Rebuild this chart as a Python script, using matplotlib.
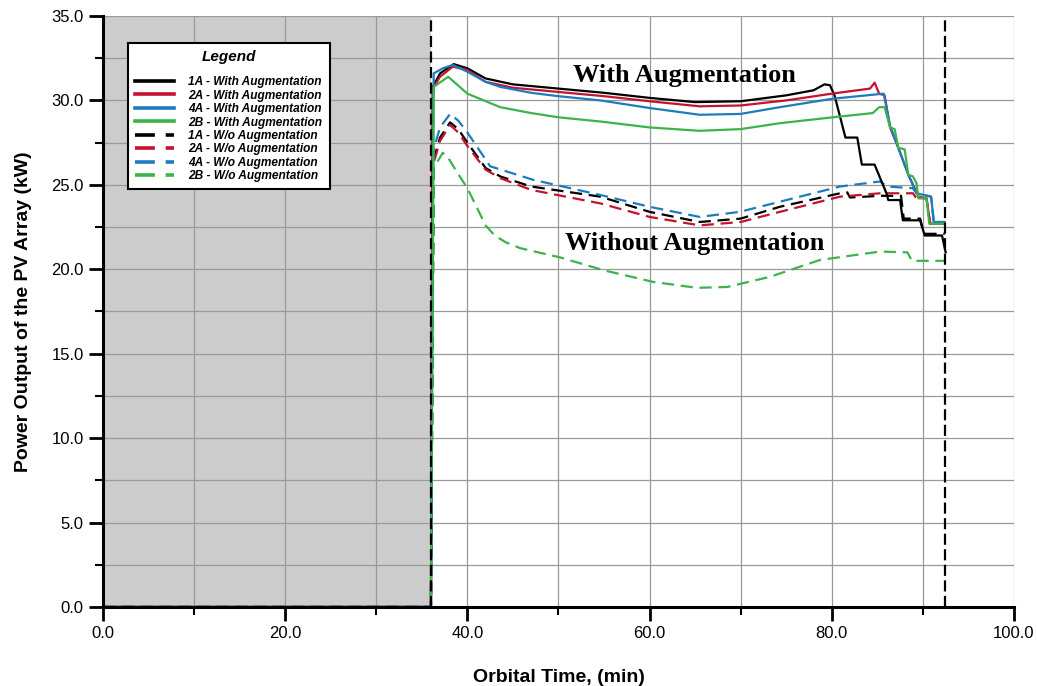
import matplotlib
matplotlib.use('Agg')
import matplotlib.pyplot as plt

# orbital time (min) and PV power (kW)
t_1a = [0, 36.0, 36.2, 37.0, 38.5, 40.0, 42.0, 45.0, 50.0, 55.0, 60.0, 65.0, 70.0, 75.0, 78.0,
        79.2, 79.8, 80.3, 81.5, 82.8, 83.3, 84.7, 86.0, 86.2, 87.5, 87.8, 89.7, 90.2, 92.1, 92.5]
p_1a = [0, 0, 30.8, 31.6, 32.15, 31.9, 31.3, 30.95, 30.7, 30.45, 30.15, 29.9, 29.95, 30.3, 30.6,
        30.95, 30.9, 30.3, 27.8, 27.8, 26.2, 26.2, 24.5, 24.1, 24.1, 22.9, 22.9, 22.0, 22.0, 21.0]

t_2a = [0, 36.0, 36.2, 37.0, 38.4, 40.0, 42.0, 45.0, 50.0, 55.0, 60.0, 65.5, 70.0, 75.0, 80.0,
        84.2, 84.7, 85.2, 85.8, 86.4, 87.3, 88.4, 89.1, 89.5, 90.4, 90.8, 92.4]
p_2a = [0, 0, 30.7, 31.4, 32.0, 31.8, 31.1, 30.75, 30.5, 30.25, 29.95, 29.65, 29.7, 30.0, 30.4,
        30.7, 31.05, 30.4, 30.3, 28.4, 27.2, 25.6, 24.8, 24.3, 24.2, 22.7, 22.7]

t_4a = [0, 36.0, 36.3, 37.3, 38.4, 40.0, 42.0, 43.6, 47.0, 50.0, 54.6, 60.0, 65.5, 70.0, 74.3,
        80.1, 85.7, 86.4, 87.3, 88.4, 89.3, 90.9, 91.2, 92.4]
p_4a = [0, 0, 31.6, 31.9, 32.1, 31.7, 31.1, 30.8, 30.45, 30.25, 30.0, 29.55, 29.15, 29.2, 29.6,
        30.1, 30.4, 28.5, 27.2, 25.6, 24.5, 24.3, 22.8, 22.8]

t_2b = [0, 36.0, 36.3, 37.9, 40.0, 43.6, 47.0, 50.0, 54.6, 60.0, 65.5, 70.0, 74.3, 80.1, 84.5,
        85.2, 85.8, 86.4, 86.9, 87.3, 88.0, 88.4, 88.9, 89.3, 89.5, 90.4, 90.7, 92.4]
p_2b = [0, 0, 30.8, 31.4, 30.4, 29.6, 29.25, 29.0, 28.75, 28.4, 28.2, 28.3, 28.65, 29.0, 29.25,
        29.6, 29.6, 28.4, 28.3, 27.2, 27.1, 25.6, 25.5, 25.1, 24.2, 24.2, 22.7, 22.7]

t_1a_wo = [0, 36.0, 36.3, 37.0, 38.1, 39.0, 40.0, 42.0, 43.6, 47.0, 54.6, 60.0, 65.5, 70.0, 74.3,
           80.9, 81.7, 82.0, 85.3, 87.6, 87.9, 89.7, 90.1, 92.4]
p_1a_wo = [0, 0, 26.5, 27.8, 28.7, 28.3, 27.5, 26.0, 25.5, 24.9, 24.3, 23.4, 22.8, 23.0, 23.7,
           24.5, 24.55, 24.25, 24.35, 24.35, 23.0, 23.0, 22.1, 22.1]

t_2a_wo = [0, 36.0, 36.3, 37.0, 38.1, 39.0, 40.0, 42.0, 43.6, 47.0, 54.6, 60.0, 65.5, 70.0, 74.3,
           80.9, 85.3, 88.9, 89.3, 90.4, 90.8, 92.4]
p_2a_wo = [0, 0, 26.3, 27.6, 28.55, 28.1, 27.3, 25.9, 25.4, 24.7, 23.9, 23.1, 22.6, 22.8, 23.4,
           24.3, 24.5, 24.5, 24.2, 24.2, 22.7, 22.7]

t_4a_wo = [0, 36.0, 36.3, 37.0, 38.1, 39.0, 40.0, 42.5, 47.2, 54.6, 60.0, 65.5, 69.9, 74.3, 80.9,
           85.3, 86.1, 88.9, 89.3, 90.9, 91.2, 92.4]
p_4a_wo = [0, 0, 27.1, 28.4, 29.2, 28.8, 28.1, 26.1, 25.3, 24.4, 23.7, 23.1, 23.4, 24.0, 24.9,
           25.2, 24.9, 24.8, 24.5, 24.3, 22.8, 22.8]

t_2b_wo = [0, 36.0, 36.3, 37.3, 37.9, 38.8, 40.0, 41.0, 42.0, 43.0, 44.2, 45.8, 50.2, 54.9, 60.4,
           65.2, 68.5, 73.2, 78.7, 85.3, 88.3, 88.8, 92.4]
p_2b_wo = [0, 0, 26.0, 26.9, 26.6, 25.8, 24.8, 23.7, 22.6, 22.0, 21.6, 21.25, 20.7, 19.95, 19.25,
           18.9, 18.95, 19.55, 20.55, 21.05, 21.0, 20.5, 20.5]

eclipse_end = 36.0
orbit_end = 92.4

black = '#000000'
red = '#c4122f'
blue = '#1f7bbf'
green = '#3cb44b'

plt.rcParams['font.family'] = ['Liberation Sans', 'DejaVu Sans']

fig = plt.figure(figsize=(10.37, 6.86), dpi=100)
ax = fig.add_axes([0.0993, 0.1152, 0.8785, 0.8615])

ax.axvspan(0, eclipse_end, color='#cccccc', lw=0)
ax.axvline(eclipse_end, color='black', lw=1.6, dashes=(5, 2), zorder=3)
ax.axvline(orbit_end, color='black', lw=1.6, dashes=(5, 2), zorder=3)

dash = (5.5, 3)
ax.plot(t_1a_wo, p_1a_wo, color=black, lw=1.6, dashes=dash, label='1A - W/o Augmentation')
ax.plot(t_2a_wo, p_2a_wo, color=red, lw=1.6, dashes=dash, label='2A - W/o Augmentation')
ax.plot(t_4a_wo, p_4a_wo, color=blue, lw=1.6, dashes=dash, label='4A - W/o Augmentation')
ax.plot(t_2b_wo, p_2b_wo, color=green, lw=1.6, dashes=dash, label='2B - W/o Augmentation')
ax.plot(t_1a, p_1a, color=black, lw=1.6, label='1A - With Augmentation')
ax.plot(t_2a, p_2a, color=red, lw=1.6, label='2A - With Augmentation')
ax.plot(t_4a, p_4a, color=blue, lw=1.6, label='4A - With Augmentation')
ax.plot(t_2b, p_2b, color=green, lw=1.6, label='2B - With Augmentation')

ax.set_xlim(0, 100)
ax.set_ylim(0, 35)
ax.set_xticks([0, 20, 40, 60, 80, 100])
ax.set_xticks([10, 30, 50, 70, 90], minor=True)
ax.set_yticks([0, 5, 10, 15, 20, 25, 30, 35])
ax.set_yticks([2.5, 7.5, 12.5, 17.5, 22.5, 27.5, 32.5], minor=True)
ax.set_xticklabels(['%.1f' % v for v in [0, 20, 40, 60, 80, 100]])
ax.set_yticklabels(['%.1f' % v for v in [0, 5, 10, 15, 20, 25, 30, 35]])
ax.grid(True, which='both', color='#999999', lw=0.9)

ax.spines['top'].set_visible(False)
ax.spines['right'].set_visible(False)
ax.spines['left'].set_linewidth(2.2)
ax.spines['bottom'].set_linewidth(2.2)
ax.tick_params(which='major', length=10, width=2, labelsize=12, pad=4)
ax.tick_params(which='minor', length=5.5, width=1.5)

ax.set_xlabel('Orbital Time, (min)', fontsize=14, fontweight='bold', labelpad=20)
ax.set_ylabel('Power Output of the PV Array (kW)', fontsize=14, fontweight='bold', labelpad=14)

ax.text(63.8, 31.5, 'With Augmentation', fontsize=19, fontweight='bold',
        family='Liberation Serif', ha='center', va='center')
ax.text(64.9, 21.55, 'Without Augmentation', fontsize=19, fontweight='bold',
        family='Liberation Serif', ha='center', va='center')

handles, labels = ax.get_legend_handles_labels()
order = [4, 5, 6, 7, 0, 1, 2, 3]
leg = ax.legend([handles[i] for i in order], [labels[i] for i in order],
                title='Legend', loc='upper left', bbox_to_anchor=(0.027, 0.955),
                borderaxespad=0, fancybox=False, framealpha=1, edgecolor='black',
                handlelength=3.3, labelspacing=0.12, borderpad=0.6, handletextpad=1.2,
                prop={'size': 8.6, 'weight': 'bold', 'style': 'italic'})
leg.get_frame().set_linewidth(1.5)
leg.get_title().set_fontsize(11)
leg.get_title().set_fontweight('bold')
leg.get_title().set_fontstyle('italic')
leg._legend_box.sep = 9
for h in leg.legend_handles:
    h.set_linewidth(2.6)
leg.set_zorder(5)

fig.savefig('out.png', dpi=100)
